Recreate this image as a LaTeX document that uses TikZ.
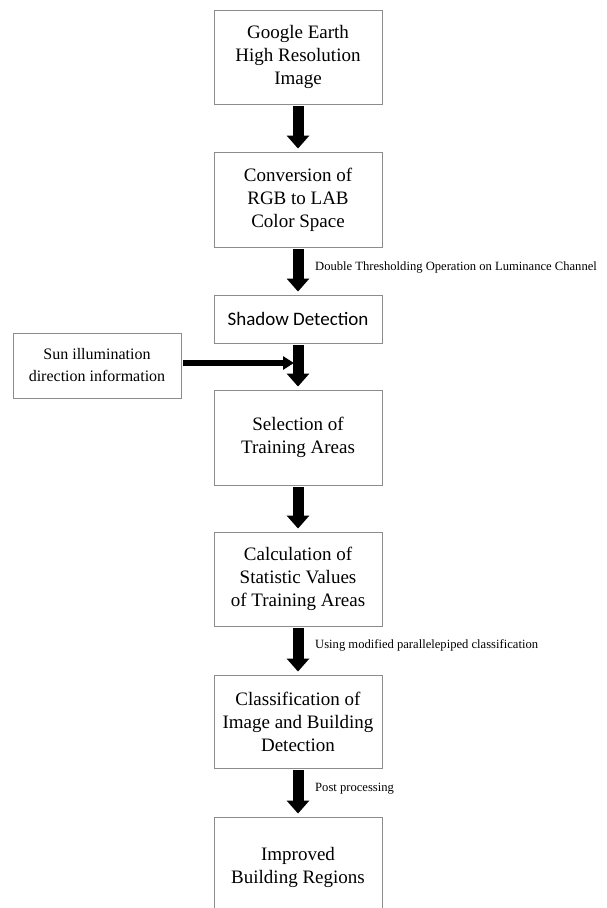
\documentclass[tikz,border=0pt]{standalone}
\usepackage{fontspec}
\setmainfont{Liberation Serif}
\newfontfamily\calib{Carlito}
\usetikzlibrary{arrows.meta}
\begin{document}
\begin{tikzpicture}[x=1pt,y=-1pt,
  box/.style={draw=black!45,line width=0.9pt,minimum width=168pt,align=center,inner sep=0pt,
     font=\fontsize{19}{23}\selectfont},
  bigarrow/.style={line width=11pt,-{Triangle[width=22pt,length=13pt]},shorten <=2pt,shorten >=3pt},
  lab/.style={anchor=west,font=\fontsize{12.6}{14}\selectfont,inner sep=0pt}]
\useasboundingbox (0,0) rectangle (607,908);
\node[box,minimum height=94pt] (b1) at (298,57) {Google Earth\\High Resolution\\Image};
\node[box,minimum height=95pt] (b2) at (298,199.5) {Conversion of\\RGB to LAB\\Color Space};
\node[box,minimum height=48pt,font=\calib\fontsize{19}{23}\selectfont] (b3) at (298,319) {Shadow Detection};
\node[box,minimum height=95pt] (b4) at (298,437.5) {Selection of\\Training Areas};
\node[box,minimum height=94pt] (b5) at (298,579) {Calculation of\\Statistic Values\\of Training Areas};
\node[box,minimum height=93pt] (b6) at (298,721.5) {Classification of\\Image and Building\\Detection};
\node[box,minimum height=96pt,text depth=0pt] (b7) at (298,865) {Improved\\Building Regions};
\node[draw=black!45,line width=0.9pt,minimum width=168pt,minimum height=65pt,align=center,inner sep=0pt,
  font=\fontsize{16}{22}\selectfont] (sun) at (97,365.5) {Sun illumination\\direction information};
\coordinate (join) at (294,363);
\draw[bigarrow] (b1.south) -- (b2.north);
\draw[bigarrow] (b2.south) -- (b3.north);
\draw[bigarrow] (b3.south) -- (b4.north);
\draw[bigarrow] (b4.south) -- (b5.north);
\draw[bigarrow] (b5.south) -- (b6.north);
\draw[bigarrow] (b6.south) -- (b7.north);
\draw[line width=6pt,-{Triangle[width=13pt,length=11pt]},shorten <=2pt] (sun.east |- join) -- (join);
\node[lab] (l1) at (315,267) {Double Thresholding Operation on Luminance Channel};
\node[lab] (l2) at (315,645) {Using modified parallelepiped classification};
\node[lab] (l3) at (315,789) {Post processing};
\end{tikzpicture}
\end{document}
